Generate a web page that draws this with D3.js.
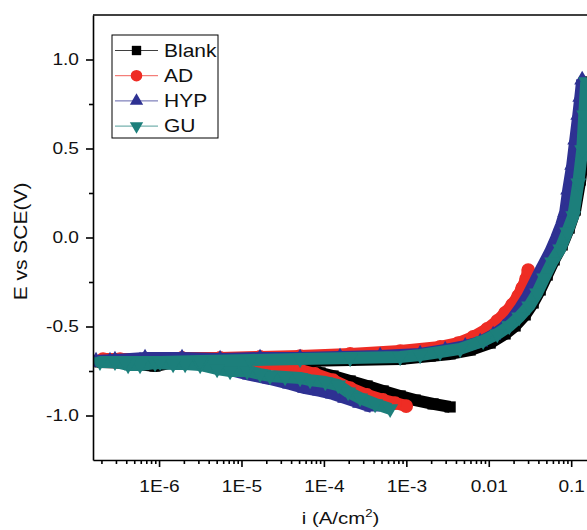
<!DOCTYPE html>
<html>
<head>
<meta charset="utf-8">
<script src="https://cdn.jsdelivr.net/npm/d3@7.9.0/dist/d3.min.js"></script>
<style>
  body { margin: 0; background: #fff; }
  svg { display: block; font-family: "Liberation Sans", Arial, sans-serif; }
</style>
</head>
<body>
<svg id="chart" width="587" height="530"></svg>
<script>
// series (i in A/cm2, E in V vs SCE), in scan order
const seriesNames = ['Blank', 'AD', 'HYP', 'GU'];
const seriesColors = ['#000000', '#ee2c24', '#2e3192', '#1c7f7b'];

const blankI = [3.40e-3, 2.11e-3, 1.28e-3, 8.41e-4, 5.23e-4, 3.34e-4, 2.08e-4, 1.29e-4, 8.99e-5, 6.80e-5, 4.47e-5, 2.94e-5, 1.68e-5, 7.27e-6, 3.15e-6, 1.36e-6, 8.94e-7, 4.45e-7, 1.92e-7,
  4.45e-7, 1.36e-6, 4.16e-6, 1.27e-5, 5.14e-5, 2.08e-4, 8.41e-4, 1.95e-3, 3.40e-3, 5.94e-3, 0.0104, 0.0158, 0.0209, 0.0277, 0.0346, 0.0421, 0.0512, 0.0622, 0.0778, 0.0946, 0.112, 0.129, 0.144, 0.152, 0.161];
const blankE = [-0.952, -0.935, -0.913, -0.890, -0.862, -0.834, -0.806, -0.778, -0.761, -0.739, -0.722, -0.711, -0.705, -0.705, -0.705, -0.705, -0.722, -0.705, -0.699,
  -0.699, -0.699, -0.699, -0.694, -0.694, -0.688, -0.683, -0.666, -0.654, -0.632, -0.593, -0.542, -0.497, -0.435, -0.368, -0.295, -0.211, -0.126, -0.042, 0.053, 0.154, 0.323, 0.503, 0.688, 0.874];

const adI = [9.95e-4, 7.31e-4, 5.23e-4, 3.34e-4, 2.08e-4, 1.29e-4, 7.82e-5, 5.14e-5, 3.38e-5, 1.93e-5, 9.62e-6, 4.79e-6, 2.38e-6, 1.03e-6, 4.45e-7, 2.09e-7,
  3.36e-7, 7.78e-7, 1.90e-6, 5.50e-6, 1.68e-5, 5.14e-5, 2.08e-4, 8.41e-4, 2.57e-3, 4.26e-3, 6.47e-3, 9.57e-3, 0.0127, 0.0158, 0.0192, 0.0227, 0.0254, 0.0284, 0.0301];
const adE = [-0.947, -0.930, -0.913, -0.885, -0.846, -0.801, -0.767, -0.744, -0.722, -0.711, -0.705, -0.699, -0.694, -0.694, -0.688, -0.683,
  -0.683, -0.683, -0.677, -0.677, -0.671, -0.666, -0.654, -0.638, -0.615, -0.593, -0.559, -0.514, -0.469, -0.424, -0.379, -0.329, -0.284, -0.233, -0.183];

const hypI = [3.85e-4, 2.75e-4, 1.81e-4, 1.29e-4, 8.99e-5, 5.92e-5, 3.89e-5, 2.22e-5, 1.27e-5, 7.27e-6, 4.16e-6, 2.38e-6, 1.36e-6, 5.88e-7, 2.54e-7, 1.72e-7,
  2.92e-7, 6.76e-7, 1.90e-6, 5.50e-6, 1.68e-5, 5.14e-5, 1.57e-4, 4.81e-4, 1.47e-3, 2.96e-3, 5.18e-3,
  7.87e-3, 0.0113, 0.0150, 0.0192, 0.0240, 0.0292, 0.0356, 0.0445, 0.0556, 0.0658, 0.0757, 0.0846, 0.0920, 0.103, 0.112, 0.122, 0.129, 0.136];
const hypE = [-0.952, -0.930, -0.902, -0.879, -0.862, -0.846, -0.823, -0.795, -0.772, -0.744, -0.722, -0.705, -0.699, -0.694, -0.694, -0.694,
  -0.688, -0.677, -0.677, -0.683, -0.677, -0.677, -0.671, -0.666, -0.654, -0.632, -0.610,
  -0.587, -0.548, -0.508, -0.458, -0.396, -0.334, -0.256, -0.166, -0.081, -0.003, 0.070, 0.143, 0.267, 0.407, 0.548, 0.688, 0.789, 0.885];

const guI = [6.36e-4, 4.18e-4, 2.75e-4, 1.97e-4, 1.49e-4, 1.04e-4, 6.80e-5, 5.14e-5, 3.38e-5, 2.22e-5, 1.68e-5, 1.17e-5, 7.27e-6, 5.06e-6, 3.15e-6, 2.07e-6, 1.48e-6, 8.94e-7, 5.88e-7, 4.21e-7, 2.92e-7, 1.92e-7,
  3.86e-7, 1.03e-6, 3.15e-6, 1.27e-5, 5.14e-5, 2.08e-4, 8.41e-4, 1.47e-3, 2.57e-3, 4.50e-3, 8.55e-3, 0.0127, 0.0177, 0.0234, 0.0309, 0.0386, 0.0470, 0.0587, 0.0736, 0.0893, 0.106, 0.122, 0.136, 0.144, 0.152];
const guE = [-0.963, -0.935, -0.902, -0.868, -0.829, -0.812, -0.801, -0.789, -0.784, -0.778, -0.767, -0.750, -0.750, -0.739, -0.716, -0.711, -0.711, -0.705, -0.716, -0.716, -0.699, -0.699,
  -0.699, -0.699, -0.694, -0.688, -0.683, -0.677, -0.671, -0.660, -0.643, -0.626, -0.581, -0.542, -0.497, -0.447, -0.385, -0.312, -0.228, -0.138, -0.065, 0.031, 0.121, 0.306, 0.492, 0.688, 0.874];

// axes
const xTickValues = [1e-6, 1e-5, 1e-4, 1e-3, 0.01, 0.1];
const xTickLabels = ['1E-6', '1E-5', '1E-4', '1E-3', '0.01', '0.1'];
const yTickValues = [-1, -0.5, 0, 0.5, 1];
const yTickLabels = ['-1.0', '-0.5', '0.0', '0.5', '1.0'];
const yMinorValues = [-0.75, -0.25, 0.25, 0.75];

const svg = d3.select('#chart');
const plotL = 93, plotR = 596, plotT = 15, plotB = 460;
const stretch = 1.16; // text in the picture is a little wide

const x = d3.scaleLog().domain([1.58e-7, 0.2]).range([plotL, plotR]);
const y = d3.scaleLinear().domain([-1.25, 1.25]).range([plotB, plotT]);

// minor x ticks 2..9 per decade inside the domain
let xMinor = [];
for (let p = -7; p <= -1; p++) {
  for (let m = 2; m <= 9; m++) {
    let v = m * Math.pow(10, p);
    if (v > 1.58e-7 && v < 0.2) xMinor.push(v);
  }
}

svg.append('clipPath').attr('id', 'plotclip')
  .append('rect').attr('x', plotL).attr('y', plotT)
  .attr('width', plotR - plotL).attr('height', plotB - plotT);

const series = [
  { name: 'Blank', iv: blankI, ev: blankE, shape: d3.symbolSquare, size: 125, rot: 0 },
  { name: 'AD', iv: adI, ev: adE, shape: d3.symbolCircle, size: 150, rot: 0 },
  { name: 'HYP', iv: hypI, ev: hypE, shape: d3.symbolTriangle, size: 110, rot: 0 },
  { name: 'GU', iv: guI, ev: guE, shape: d3.symbolTriangle, size: 110, rot: 180 }
];

const line = d3.line()
  .x((d) => x(d[0]))
  .y((d) => y(d[1]));

const plot = svg.append('g').attr('clip-path', 'url(#plotclip)');

series.forEach((s, idx) => {
  let pts = s.iv.map((v, k) => [v, s.ev[k]]);
  let color = seriesColors[idx];
  let g = plot.append('g');
  g.append('path')
    .datum(pts)
    .attr('d', line)
    .attr('fill', 'none')
    .attr('stroke', color)
    .attr('stroke-width', 12)
    .attr('stroke-linejoin', 'round');
  g.selectAll('path.mk')
    .data(pts)
    .join('path')
    .attr('class', 'mk')
    .attr('d', d3.symbol().type(s.shape).size(s.size))
    .attr('transform', (d) => `translate(${x(d[0])},${y(d[1])}) rotate(${s.rot})`)
    .attr('fill', color);
});

// frame
svg.append('line')
  .attr('x1', plotL).attr('x2', plotR).attr('y1', plotT).attr('y2', plotT)
  .attr('stroke', '#000').attr('stroke-width', 1.6);
svg.append('line')
  .attr('x1', plotR).attr('x2', plotR).attr('y1', plotT).attr('y2', plotB)
  .attr('stroke', '#000').attr('stroke-width', 1.6);

// x axis
svg.append('g')
  .attr('transform', `translate(0,${plotB})`)
  .call(d3.axisBottom(x).tickValues(xTickValues)
    .tickFormat((d, k) => xTickLabels[k])
    .tickSize(7).tickSizeOuter(0).tickPadding(13))
  .call((g) => g.selectAll('.tick text').attr('transform', `scale(${stretch},1)`));
svg.append('g')
  .attr('transform', `translate(0,${plotB})`)
  .call(d3.axisBottom(x).tickValues(xMinor).tickFormat('').tickSize(4))
  .call((g) => g.select('.domain').remove());

// y axis
svg.append('g')
  .attr('transform', `translate(${plotL},0)`)
  .call(d3.axisLeft(y).tickValues(yTickValues)
    .tickFormat((d, k) => yTickLabels[k])
    .tickSize(7).tickSizeOuter(0).tickPadding(7))
  .call((g) => g.selectAll('.tick text')
    .attr('x', -14 / stretch)
    .attr('transform', `scale(${stretch},1)`));
svg.append('g')
  .attr('transform', `translate(${plotL},0)`)
  .call(d3.axisLeft(y).tickValues(yMinorValues).tickFormat('').tickSize(4))
  .call((g) => g.select('.domain').remove());

svg.selectAll('.domain, .tick line')
  .attr('stroke', '#000').attr('stroke-width', 1.6);
svg.selectAll('.tick text')
  .attr('font-size', 16.5).attr('fill', '#111')
  .attr('font-family', '"Liberation Sans", Arial, sans-serif');

// axis titles
const xTitle = svg.append('text')
  .attr('transform', `translate(${(plotL + plotR) / 2 - 4},524) scale(1.2,1)`)
  .attr('text-anchor', 'middle')
  .attr('font-size', 17).attr('fill', '#111');
xTitle.append('tspan').text('i (A/cm');
xTitle.append('tspan').text('2').attr('font-size', 11).attr('dy', -7);
xTitle.append('tspan').text(')').attr('dy', 7);

svg.append('text')
  .attr('transform', `translate(27,${(plotT + plotB) / 2 + 4}) rotate(-90) scale(1.2,1)`)
  .attr('text-anchor', 'middle')
  .attr('font-size', 17.5).attr('fill', '#111')
  .text('E vs SCE(V)');

// legend
const legend = svg.append('g');
legend.append('rect')
  .attr('x', 112).attr('y', 35).attr('width', 106).attr('height', 103)
  .attr('fill', '#fff').attr('stroke', '#000').attr('stroke-width', 1);

series.forEach((s, idx) => {
  let ly = 50.5 + idx * 25.2;
  let color = seriesColors[idx];
  legend.append('line')
    .attr('x1', 115).attr('x2', 158).attr('y1', ly).attr('y2', ly)
    .attr('stroke', color).attr('stroke-width', 1).attr('opacity', 0.75);
  legend.append('path')
    .attr('d', d3.symbol().type(s.shape).size(s.size * 0.7)())
    .attr('transform', `translate(136.5,${ly}) rotate(${s.rot})`)
    .attr('fill', color);
  legend.append('text')
    .attr('transform', `translate(164,${ly}) scale(1.2,1)`)
    .attr('dy', '0.36em')
    .attr('font-size', 17.5).attr('fill', '#111')
    .text(s.name);
});
</script>
</body>
</html>
